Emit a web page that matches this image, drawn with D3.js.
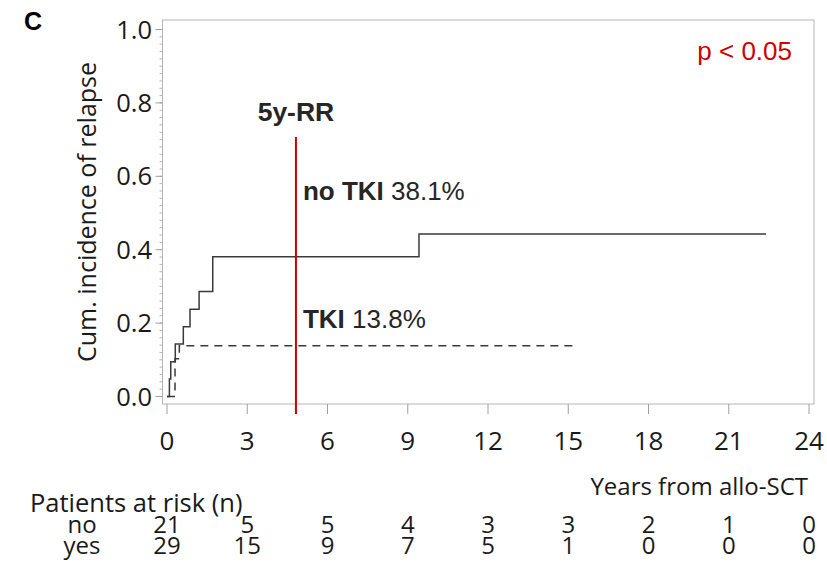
<!DOCTYPE html>
<html>
<head>
<meta charset="utf-8">
<script src="https://cdn.jsdelivr.net/npm/d3@7"></script>
<style>
  html, body { margin: 0; padding: 0; background: #fff; }
  svg { display: block; }
</style>
</head>
<body>
<svg id="chart" width="827" height="563"></svg>
<script>
// Cumulative incidence of relapse by TKI maintenance (step functions)
const noTkiTimes  = [0, 0.09, 0.14, 0.31, 0.61, 0.86, 1.20, 1.71, 9.42, 22.39];
const noTkiValues = [0, 0.048, 0.095, 0.143, 0.190, 0.238, 0.286, 0.381, 0.443, 0.443];
const tkiTimes    = [0, 0.30, 0.46, 15.34];
const tkiValues   = [0, 0.103, 0.138, 0.138];

// Landmark for 5-year relapse rate
const landmarkYear = 4.82;
const landmarkNoTki = 38.1;
const landmarkTki = 13.8;

// Axis ticks
const xTicks = [0, 3, 6, 9, 12, 15, 18, 21, 24];
const yTicks = [0, 0.2, 0.4, 0.6, 0.8, 1.0];

// Numbers at risk at each x tick
const riskGroups = ["no", "yes"];
const riskNo  = [21, 5, 5, 4, 3, 3, 2, 1, 0];
const riskYes = [29, 15, 9, 7, 5, 1, 0, 0, 0];

const svg = d3.select("#chart");
const axisFont = "'Open Sans', 'Noto Sans', sans-serif";
const annoFont = "'Liberation Sans', Arial, sans-serif";
const ink = "#1a1a1a";

const x = d3.scaleLinear().domain([0, 24]).range([167, 809]);
const y = d3.scaleLinear().domain([0, 1]).range([396.5, 29.5]);

const frame = { left: 162.5, right: 814, top: 20, bottom: 404 };

// Plot frame
svg.append("rect")
  .attr("x", frame.left).attr("y", frame.top)
  .attr("width", frame.right - frame.left)
  .attr("height", frame.bottom - frame.top)
  .attr("fill", "none").attr("stroke", "#b5b5b5").attr("stroke-width", 1);

// Y axis: major + minor ticks
const yMinor = d3.range(0, 1.0001, 0.02);
svg.append("g").selectAll("line").data(yMinor).join("line")
  .attr("x1", frame.left - 3).attr("x2", frame.left)
  .attr("y1", d => y(d)).attr("y2", d => y(d))
  .attr("stroke", "#b5b5b5").attr("stroke-width", 1);
svg.append("g").selectAll("line").data(yTicks).join("line")
  .attr("x1", frame.left - 7).attr("x2", frame.left)
  .attr("y1", d => y(d)).attr("y2", d => y(d))
  .attr("stroke", "#a0a0a0").attr("stroke-width", 1);
svg.append("g").selectAll("text").data(yTicks).join("text")
  .attr("x", 152).attr("y", d => y(d)).attr("dy", "0.36em")
  .attr("text-anchor", "end")
  .attr("font-family", axisFont).attr("font-size", 25.5).attr("fill", ink)
  .text(d => d3.format(".1f")(d));

// X axis ticks + labels
svg.append("g").selectAll("line").data(xTicks).join("line")
  .attr("x1", d => x(d)).attr("x2", d => x(d))
  .attr("y1", frame.bottom).attr("y2", frame.bottom + 10)
  .attr("stroke", "#a0a0a0").attr("stroke-width", 1);
svg.append("g").selectAll("text").data(xTicks).join("text")
  .attr("x", d => x(d)).attr("y", 450)
  .attr("text-anchor", "middle")
  .attr("font-family", axisFont).attr("font-size", 26).attr("fill", ink)
  .text(d => d);

// Y axis title
svg.append("text")
  .attr("transform", "translate(96,212) rotate(-90)")
  .attr("text-anchor", "middle")
  .attr("font-family", axisFont).attr("font-size", 25).attr("fill", ink)
  .text("Cum. incidence of relapse");

// Panel letter
svg.append("text")
  .attr("x", 24).attr("y", 30)
  .attr("font-family", annoFont).attr("font-weight", "bold")
  .attr("font-size", 25).attr("fill", "#000")
  .text("C");

// Curves
const step = d3.line()
  .x(d => x(d[0])).y(d => y(d[1]))
  .curve(d3.curveStepAfter);

svg.append("path")
  .datum(d3.zip(noTkiTimes, noTkiValues))
  .attr("d", step)
  .attr("fill", "none").attr("stroke", "#3a3a3a").attr("stroke-width", 1.5);

svg.append("path")
  .datum(d3.zip(tkiTimes, tkiValues))
  .attr("d", step)
  .attr("fill", "none").attr("stroke", "#3a3a3a").attr("stroke-width", 1.5)
  .attr("stroke-dasharray", "8,6");

// Landmark line
svg.append("line")
  .attr("x1", x(landmarkYear)).attr("x2", x(landmarkYear))
  .attr("y1", 137).attr("y2", 414)
  .attr("stroke", "#cc0000").attr("stroke-width", 2);

svg.append("text")
  .attr("x", x(landmarkYear)).attr("y", 120.5)
  .attr("text-anchor", "middle")
  .attr("font-family", annoFont).attr("font-weight", "bold")
  .attr("font-size", 26.5).attr("fill", "#262626")
  .text("5y-RR");

function landmarkLabel(yPos, group, pct) {
  const t = svg.append("text")
    .attr("x", x(landmarkYear) + 7).attr("y", yPos)
    .attr("font-family", annoFont).attr("font-size", 26).attr("fill", "#262626");
  t.append("tspan").attr("font-weight", "bold").text(group + " ");
  t.append("tspan").text(pct.toFixed(1) + "%");
}
landmarkLabel(199.5, "no TKI", landmarkNoTki);
landmarkLabel(328, "TKI", landmarkTki);

// p-value
svg.append("text")
  .attr("x", 792).attr("y", 60)
  .attr("text-anchor", "end")
  .attr("font-family", annoFont).attr("font-size", 26).attr("fill", "#cc0000")
  .text("p < 0.05");

// Risk table
svg.append("text")
  .attr("x", 808).attr("y", 495)
  .attr("text-anchor", "end")
  .attr("font-family", axisFont).attr("font-size", 24).attr("fill", ink)
  .text("Years from allo-SCT");

svg.append("text")
  .attr("x", 30).attr("y", 512)
  .attr("font-family", axisFont).attr("font-size", 25.5).attr("fill", ink)
  .text("Patients at risk (n)");

const riskRows = [riskNo, riskYes];
const rowBase = [533, 554];
riskRows.forEach((row, i) => {
  svg.append("text")
    .attr("x", 82).attr("y", rowBase[i])
    .attr("text-anchor", "middle")
    .attr("font-family", axisFont).attr("font-size", 24).attr("fill", ink)
    .text(riskGroups[i]);
  svg.append("g").selectAll("text").data(row).join("text")
    .attr("x", (d, j) => x(xTicks[j])).attr("y", rowBase[i])
    .attr("text-anchor", "middle")
    .attr("font-family", axisFont).attr("font-size", 24).attr("fill", ink)
    .text(d => d);
});
</script>
</body>
</html>
